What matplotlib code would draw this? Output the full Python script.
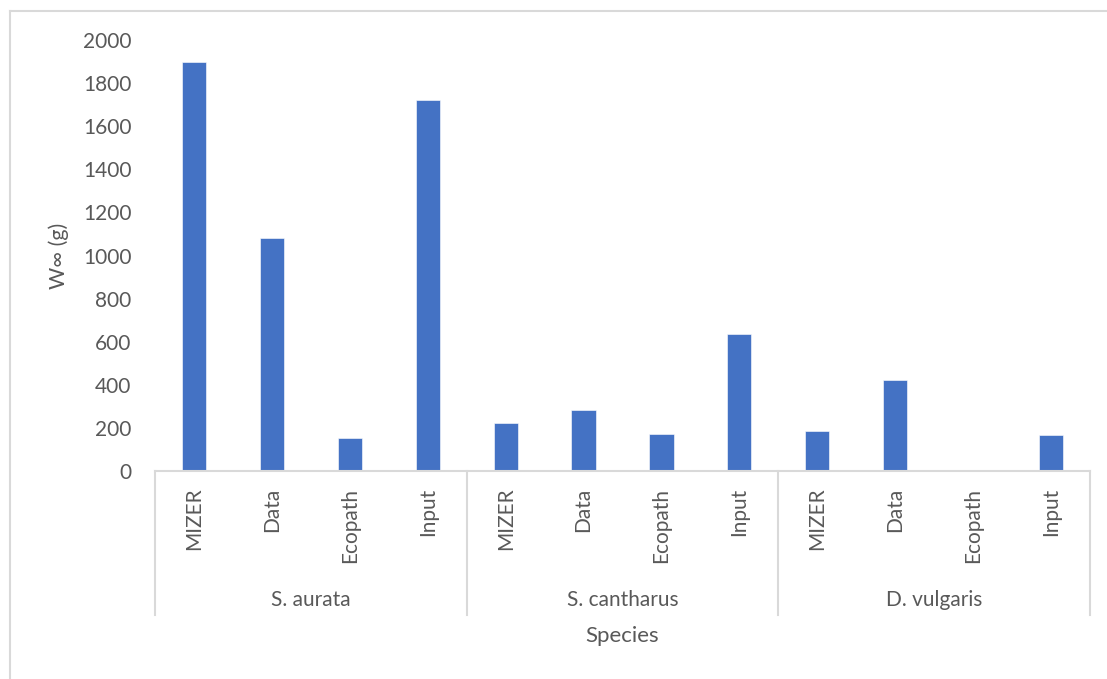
import numpy as np
import matplotlib.pyplot as plt
from matplotlib.transforms import blended_transform_factory

species = ['S. aurata', 'S. cantharus', 'D. vulgaris']
sources = ['MIZER', 'Data', 'Ecopath', 'Input']
w_inf = [
    [1900, 1083, 155, 1722],   # S. aurata
    [222, 284, 170, 638],      # S. cantharus
    [187, 424, 0, 167],        # D. vulgaris
]

plt.rcParams['font.family'] = ['Lato', 'DejaVu Sans']
text_col = '#595959'
line_col = '#D9D9D9'

fig = plt.figure(figsize=(11.07, 6.79), dpi=100)
ax = fig.add_axes([0.140, 0.3063, 0.8447, 0.6348])

n_src = len(sources)
x = np.arange(len(species) * n_src)
vals = np.array(w_inf).ravel()
ax.bar(x, vals, width=0.31, color='#4472C4', edgecolor='white', linewidth=0.4)

ax.set_xlim(-0.5, len(x) - 0.5)
ax.set_ylim(0, 2000)
ax.set_yticks(range(0, 2001, 200))
ax.tick_params(axis='y', length=0, labelsize=15, labelcolor=text_col, pad=17)
ax.tick_params(axis='x', length=0, labelbottom=False)
for s in ['top', 'right', 'left']:
    ax.spines[s].set_visible(False)
ax.spines['bottom'].set_color(line_col)
ax.spines['bottom'].set_linewidth(1.5)

ax.set_ylabel('W∞ (g)', fontsize=15.5, color=text_col, labelpad=10)

# two-level category axis drawn below the plot
trans = blended_transform_factory(ax.transData, ax.transAxes)
for i, xi in enumerate(x):
    ax.text(xi, -0.039, sources[i % n_src], rotation=90, ha='center', va='top',
            fontsize=15, color=text_col, transform=trans)
for g, name in enumerate(species):
    ax.text(g * n_src + (n_src - 1) / 2, -0.299, name, ha='center', va='center',
            fontsize=15, color=text_col, transform=trans)
for b in range(len(species) + 1):
    xb = b * n_src - 0.5
    ax.plot([xb, xb], [0, -0.334], color=line_col, lw=1.5, transform=trans,
            clip_on=False)

ax.text(0.5, -0.383, 'Species', ha='center', va='center', fontsize=16,
        color=text_col, transform=ax.transAxes)

# chart frame (top and left edges)
fig.add_artist(plt.Line2D([10 / 1107, 1], [1 - 10.5 / 679] * 2, color=line_col,
                          lw=1.5, transform=fig.transFigure))
fig.add_artist(plt.Line2D([10 / 1107] * 2, [0, 1 - 10.5 / 679], color=line_col,
                          lw=1.5, transform=fig.transFigure))

fig.savefig('out.png', dpi=100)
